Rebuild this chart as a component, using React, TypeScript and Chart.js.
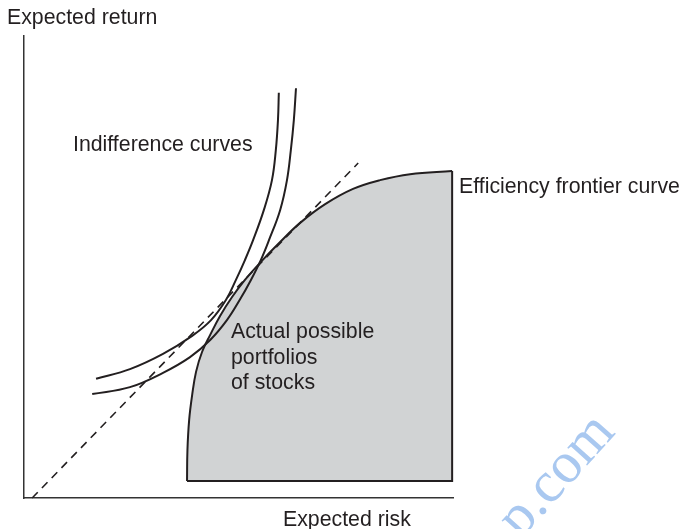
import React, { useEffect, useRef } from 'react';
import { Chart, registerables } from 'chart.js';

Chart.register(...registerables);

// Efficient frontier (risk, return) in abstract units 0-100
const frontierRisk = [38.0, 38.1, 38.5, 39.2, 40.1, 41.5, 43.4, 45.7, 48.5, 51.5, 55.0, 59.7, 64.3, 70.2, 76.7, 83.0, 90.0, 99.8];
const frontierReturn = [3.7, 10.4, 16.9, 22.3, 27.3, 31.6, 35.3, 39.4, 43.5, 47.2, 50.9, 55.4, 59.5, 63.6, 66.9, 68.8, 70.1, 70.8];

// closing edges of the feasible region
const regionEdgeRisk = [99.8, 99.8, 38.0];
const regionEdgeReturn = [70.8, 3.7, 3.7];
const regionBase = 3.7;

// dashed tangent line
const tangentRisk = [1.9, 77.9];
const tangentReturn = [0, 72.5];

// indifference curves
const upperCurveRisk = [16.8, 24.7, 32.4, 39.2, 43.6, 47.1, 49.4, 51.5, 53.4, 55.9, 57.8, 58.7, 59.2, 59.4];
const upperCurveReturn = [25.8, 27.9, 31.2, 35.1, 38.5, 42.9, 47.2, 51.5, 55.8, 62.3, 68.8, 75.3, 81.8, 87.7];
const lowerCurveRisk = [15.9, 24.7, 32.4, 38.7, 43.4, 47.3, 50.3, 52.9, 55.2, 57.1, 59.7, 61.3, 62.2, 62.9, 63.4];
const lowerCurveReturn = [22.5, 24.0, 27.1, 30.5, 34.2, 38.5, 42.9, 47.2, 51.5, 55.8, 62.3, 68.8, 75.3, 81.8, 88.7];

const axisTitleX = 'Expected risk';
const axisTitleY = 'Expected return';
const curvesLabel = 'Indifference curves';
const frontierLabel = 'Efficiency frontier curve';
const regionLabel = ['Actual possible', 'portfolios', 'of stocks'];
const watermark = 'p.com';

const INK = '#231f20';

const zip = (xs: number[], ys: number[]) => xs.map((x, i) => ({ x, y: ys[i] }));

const labelPlugin = {
  id: 'figureLabels',
  afterDraw(chart: any) {
    const ctx = chart.ctx as CanvasRenderingContext2D;
    ctx.save();
    ctx.font = '21.3px "Liberation Sans", Arial, sans-serif';
    ctx.fillStyle = INK;
    ctx.textBaseline = 'alphabetic';
    ctx.textAlign = 'left';
    ctx.fillText(axisTitleY, 7, 24);
    ctx.fillText(axisTitleX, 283, 526);
    ctx.fillText(curvesLabel, 73, 151);
    ctx.fillText(frontierLabel, 459, 193);
    regionLabel.forEach((t, i) => ctx.fillText(t, 231, 338 + i * 25.5));
    ctx.restore();

    ctx.save();
    ctx.translate(540, 518);
    ctx.rotate(-48 * Math.PI / 180);
    ctx.font = '58px "Liberation Serif", "Times New Roman", serif';
    ctx.fillStyle = '#a9c8f0';
    ctx.fillText(watermark, -29, 0);
    ctx.restore();
  },
};

export default function App() {
  const ref = useRef<HTMLCanvasElement | null>(null);

  useEffect(() => {
    if (!ref.current) return;
    const lineBase = {
      showLine: true,
      pointRadius: 0,
      pointHoverRadius: 0,
      borderColor: INK,
      clip: false as any,
    };
    const chart = new Chart(ref.current, {
      type: 'scatter',
      data: {
        datasets: [
          {
            ...lineBase,
            data: zip(tangentRisk, tangentReturn),
            borderWidth: 1.6,
            borderDash: [8, 6],
            tension: 0,
            fill: false,
          },
          {
            ...lineBase,
            data: zip(upperCurveRisk, upperCurveReturn),
            borderWidth: 2,
            tension: 0.4,
            fill: false,
          },
          {
            ...lineBase,
            data: zip(lowerCurveRisk, lowerCurveReturn),
            borderWidth: 2,
            tension: 0.4,
            fill: false,
          },
          {
            ...lineBase,
            data: zip(regionEdgeRisk, regionEdgeReturn),
            borderWidth: 2,
            tension: 0,
            fill: false,
          },
          {
            ...lineBase,
            data: zip(frontierRisk, frontierReturn),
            borderWidth: 2,
            tension: 0.4,
            fill: { value: regionBase },
            backgroundColor: '#d1d3d4',
          },
        ] as any,
      },
      options: {
        animation: false,
        responsive: false,
        events: [],
        layout: { padding: { left: 24, top: 36, right: 228, bottom: 31 } },
        plugins: {
          legend: { display: false },
          tooltip: { enabled: false },
          filler: { drawTime: 'beforeDatasetsDraw' } as any,
        },
        scales: {
          x: {
            type: 'linear',
            min: 0,
            max: 100,
            grid: { display: false, drawTicks: false },
            ticks: { display: false },
            border: { display: true, color: '#333', width: 1.5 },
          },
          y: {
            type: 'linear',
            min: 0,
            max: 100,
            grid: { display: false, drawTicks: false },
            ticks: { display: false },
            border: { display: true, color: '#333', width: 1.5 },
          },
        },
      },
      plugins: [labelPlugin],
    });
    return () => chart.destroy();
  }, []);

  return (
    <div style={{ position: 'absolute', left: 0, top: 0, width: 681, height: 529, background: '#fff' }}>
      <canvas ref={ref} width={681} height={529} style={{ display: 'block' }} />
    </div>
  );
}
